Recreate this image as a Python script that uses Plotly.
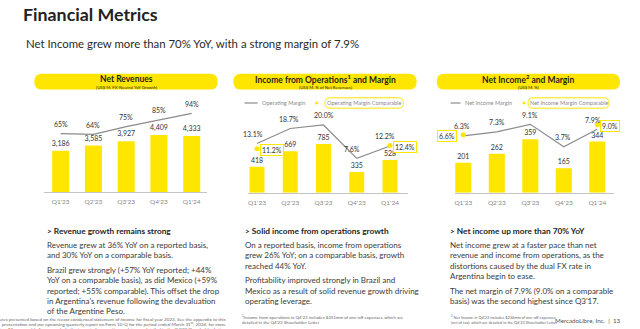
import plotly.graph_objects as go

# ---------------- data ----------------
quarters = ["Q1'23", "Q2'23", "Q3'23", "Q4'23", "Q1'24"]
net_revenues = [3186, 3585, 3927, 4409, 4333]
fx_neutral_growth = [65, 64, 75, 85, 94]
income_ops = [418, 669, 785, 335, 528]
operating_margin = [13.1, 18.7, 20.0, 7.6, 12.2]
op_margin_comparable = [11.2, None, None, None, 12.4]
net_income = [201, 262, 359, 165, 344]
net_income_margin = [6.3, 7.3, 9.1, 3.7, 7.9]
ni_margin_comparable = [6.6, None, None, None, 9.0]

# ---------------- style ----------------
W, H = 640, 329
YELLOW = "#FFE600"
GRAY_LINE = "#8c8c8c"
TEXT = "#333333"
DARK = "#1e1e1e"
TICK = "#8a8a8a"
FONT = "Lato"


def fx(p):
    return p / W


def fy(p):
    return 1 - p / H


def rounded_path(x0, y0, x1, y1, r):
    pts = [
        ("M", [(x0 + r, y0)]),
        ("L", [(x1 - r, y0)]),
        ("Q", [(x1, y0), (x1, y0 + r)]),
        ("L", [(x1, y1 - r)]),
        ("Q", [(x1, y1), (x1 - r, y1)]),
        ("L", [(x0 + r, y1)]),
        ("Q", [(x0, y1), (x0, y1 - r)]),
        ("L", [(x0, y0 + r)]),
        ("Q", [(x0, y0), (x0 + r, y0)]),
    ]
    s = ""
    for cmd, ps in pts:
        s += cmd + " " + " ".join(f"{fx(a):.5f},{fy(b):.5f}" for a, b in ps) + " "
    return s + "Z"


def ptext(x, y, text, size, color, xanchor="left", **kw):
    d = dict(x=fx(x), y=fy(y), xref="paper", yref="paper", xanchor=xanchor,
             yanchor="middle", text=text, showarrow=False,
             font=dict(size=size, color=color, family=FONT))
    d.update(kw)
    return d


fig = go.Figure()

panels = [
    dict(bars=net_revenues, line=fx_neutral_growth, comp=None, pct="{:.0f}%",
         x_left=44.3, x_right=207.3, c0=60.7, c4=191.7, base=192.0, top=95.0,
         bar_scale=0.01295, zero_px=179.1, line_scale=0.70, width=0.52,
         label_dx=[0, 0, 0, 0, 0], comp_side=None),
    dict(bars=income_ops, line=operating_margin, comp=op_margin_comparable, pct="{:.1f}%",
         x_left=248.3, x_right=407.7, c0=257.0, c4=390.0, base=192.7, top=95.0,
         bar_scale=0.0620, zero_px=178.8, line_scale=2.69, width=0.45,
         label_dx=[-4, -1, 0, -5, -5], comp_side=["left", "left"]),
    dict(bars=net_income, line=net_income_margin, comp=ni_margin_comparable, pct="{:.1f}%",
         x_left=455.0, x_right=614.3, c0=463.3, c4=597.3, base=192.7, top=95.0,
         bar_scale=0.1487, zero_px=162.1, line_scale=4.15, width=0.48,
         label_dx=[-1, 0, 0, -1, -4], comp_side=["right", "left"]),
]

annotations = []
shapes = []

for i, p in enumerate(panels, start=1):
    xa = "x" if i == 1 else f"x{i}"
    yb = f"y{2 * i - 1}" if i > 1 else "y"
    yl = f"y{2 * i}"
    fig.add_trace(go.Bar(
        x=quarters, y=p["bars"], xaxis=xa, yaxis=yb, width=p["width"],
        marker=dict(color=YELLOW, line=dict(width=0)),
        texttemplate="%{y:,}", textposition="outside", constraintext="none",
        textfont=dict(size=7, color=TEXT, family=FONT), cliponaxis=False,
        hoverinfo="skip", showlegend=False))
    fig.add_trace(go.Scatter(
        x=quarters, y=p["line"], xaxis=xa, yaxis=yl, mode="lines",
        line=dict(color=GRAY_LINE, width=1.2), cliponaxis=False,
        hoverinfo="skip", showlegend=False))
    for q, v, dx in zip(quarters, p["line"], p["label_dx"]):
        annotations.append(dict(
            x=q, y=v, xref=xa, yref=yl, text=p["pct"].format(v), showarrow=False,
            xanchor="center", yanchor="middle",
            yshift=9.5, xshift=dx, font=dict(size=7, color=TEXT, family=FONT)))
    if p["comp"] is not None:
        fig.add_trace(go.Scatter(
            x=quarters, y=p["comp"], xaxis=xa, yaxis=yl, mode="markers",
            marker=dict(color=YELLOW, size=5), cliponaxis=False,
            hoverinfo="skip", showlegend=False))
        k = 0
        for q, v in zip(quarters, p["comp"]):
            if v is None:
                continue
            side = p["comp_side"][k]
            k += 1
            annotations.append(dict(
                x=q, y=v, xref=xa, yref=yl, text=f"{v:.1f}%", showarrow=False,
                xanchor=side, yanchor="middle",
                xshift=(3 if side == "left" else -6), yshift=-1.5,
                bordercolor=YELLOW, borderwidth=1, borderpad=1, bgcolor="white",
                font=dict(size=7, color=TEXT, family=FONT)))

    spacing = (p["c4"] - p["c0"]) / 4
    r0 = -(p["c0"] - p["x_left"]) / spacing
    r1 = 4 + (p["x_right"] - p["c4"]) / spacing
    dom_h = p["base"] - p["top"]
    lo = -(p["base"] - p["zero_px"]) / p["line_scale"]
    xkey = "xaxis" if i == 1 else f"xaxis{i}"
    ybkey = "yaxis" if i == 1 else f"yaxis{2 * i - 1}"
    ylkey = f"yaxis{2 * i}"
    fig.update_layout({
        xkey: dict(domain=[fx(p["x_left"]), fx(p["x_right"])], anchor=yb,
                   type="category", range=[r0, r1], showline=True,
                   linecolor="#c4c4c4", linewidth=1, showgrid=False, zeroline=False,
                   ticks="outside", ticklen=3, tickcolor="rgba(0,0,0,0)",
                   tickfont=dict(size=6.5, color=TICK, family=FONT), fixedrange=True),
        ybkey: dict(domain=[fy(p["base"]), fy(p["top"])], anchor=xa,
                    range=[0, dom_h / p["bar_scale"]], visible=False, fixedrange=True),
        ylkey: dict(overlaying=yb, anchor=xa,
                    range=[lo, lo + dom_h / p["line_scale"]], visible=False,
                    fixedrange=True),
    })

# ---------------- header pills ----------------
headers = [
    ("Net Revenues", "(US$ M, FX-Neutral YoY Growth)", 34.3, 217.8),
    ("Income from Operations<sup>1</sup> and Margin", "(US$ M, % of Net Revenues)", 233.3, 416.7),
    ("Net Income<sup>2</sup> and Margin", "(US$ M, %)", 436.7, 620.0),
]
for title, sub, x0, x1 in headers:
    shapes.append(dict(type="path", xref="paper", yref="paper",
                       path=rounded_path(x0, 73.8, x1, 89.6, 7.9),
                       fillcolor=YELLOW, line=dict(width=0), layer="below"))
    cx = (x0 + x1) / 2
    annotations.append(ptext(cx, 78.6, f"<b>{title}</b>", 8.5, DARK, xanchor="center"))
    annotations.append(ptext(cx, 87.4, sub, 4.3, DARK, xanchor="center"))

# ---------------- custom legends ----------------
legends = [
    ("Operating Margin", "Operating Margin Comparable", 244.5, 257.5, 316.7, 325.0, 403.3),
    ("Net Income Margin", "Net Income Margin Comparable", 450.5, 460.5, 524.0, 528.0, 609.0),
]
for t1, t2, lx0, lx1, dotx, bx0, bx1 in legends:
    ly = 103.0
    shapes.append(dict(type="line", xref="paper", yref="paper",
                       x0=fx(lx0), x1=fx(lx1), y0=fy(ly), y1=fy(ly),
                       line=dict(color=GRAY_LINE, width=1.2)))
    annotations.append(ptext(lx1 + 2.5, ly, t1, 5.6, TICK))
    shapes.append(dict(type="circle", xref="paper", yref="paper",
                       x0=fx(dotx - 1.6), x1=fx(dotx + 1.6), y0=fy(ly - 1.6), y1=fy(ly + 1.6),
                       fillcolor=YELLOW, line=dict(width=0)))
    shapes.append(dict(type="path", xref="paper", yref="paper",
                       path=rounded_path(bx0, ly - 5.2, bx1, ly + 5.2, 5.0),
                       fillcolor="white", line=dict(color=YELLOW, width=1)))
    annotations.append(ptext((bx0 + bx1) / 2, ly, t2, 5.6, TICK, xanchor="center"))

# ---------------- titles ----------------
annotations.append(ptext(21, 13.5, "<b>Financial Metrics</b>", 17.8, "#222222"))
annotations.append(ptext(24, 43.5, "Net Income grew more than 70% YoY, with a strong margin of 7.9%",
                         11.4, "#2a2a2a"))

# ---------------- commentary columns ----------------
columns = [
    (45, "> Revenue growth remains strong",
     [["Revenue grew at 36% YoY on a reported basis,",
       "and 30% YoY on a comparable basis."],
      ["Brazil grew strongly (+57% YoY reported; +44%",
       "YoY on a comparable basis), as did Mexico (+59%",
       "reported; +55% comparable). This offset the drop",
       "in Argentina's revenue following the devaluation",
       "of the Argentine Peso."]]),
    (243, "> Solid income from operations growth",
     [["On a reported basis, income from operations",
       "grew 26% YoY; on a comparable basis, growth",
       "reached 44% YoY."],
      ["Profitability improved strongly in Brazil and",
       "Mexico as a result of solid revenue growth driving",
       "operating leverage."]]),
    (448, "> Net income up more than 70% YoY",
     [["Net income grew at a faster pace than net",
       "revenue and income from operations, as the",
       "distortions caused by the dual FX rate in",
       "Argentina begin to ease."],
      ["The net margin of 7.9% (9.0% on a comparable",
       "basis) was the second highest since Q3'17."]]),
]
LS = 10.3
for x0, head, paras in columns:
    annotations.append(ptext(x0, 231, f"<b>{head}</b>", 8.3, DARK))
    yy = 245.0
    for para in paras:
        for line in para:
            annotations.append(ptext(x0, yy, line, 8.0, "#3a3a3a"))
            yy += LS
        yy += 4.3

# ---------------- footnotes ----------------
FOOT = "#666666"
foot1 = [
    "Figures presented based on the recast condensed statement of income for fiscal year 2023. See the appendix to this",
    "presentation and our upcoming quarterly report on Form 10-Q for the period ended March 31<sup>st</sup>, 2024, for more",
    "information. All comparable figures exclude the impact of accounting updates, as detailed in the Q4'23 Shareholder Letter",
]
for k, line in enumerate(foot1):
    annotations.append(ptext(228, 318.5 + 5.2 * k, line, 4.6, FOOT, xanchor="right"))
foot2 = ["<sup>1</sup>Income from operations in Q4'23 includes $351mm of one-off expenses, which are",
         "detailed in the Q4'23 Shareholder Letter"]
for k, line in enumerate(foot2):
    annotations.append(ptext(240, 317 + 5.6 * k, line, 4.4, FOOT))
foot3 = ["<sup>2</sup> Net Income in Q4'23 includes $234mm of one-off expenses,",
         "(net of tax), which are detailed in the Q4'23 Shareholder Letter"]
for k, line in enumerate(foot3):
    annotations.append(ptext(449, 317 + 5.6 * k, line, 3.9, FOOT))
annotations.append(ptext(553, 320, "MercadoLibre, Inc.  |  13", 6.2, "#555555"))

fig.update_layout(
    width=W, height=H, margin=dict(l=0, r=0, t=0, b=0, pad=0),
    paper_bgcolor="white", plot_bgcolor="rgba(0,0,0,0)",
    font=dict(family=FONT, color=TEXT),
    showlegend=False, annotations=annotations, shapes=shapes,
)

fig.write_html("out.html", config={"displayModeBar": False})
